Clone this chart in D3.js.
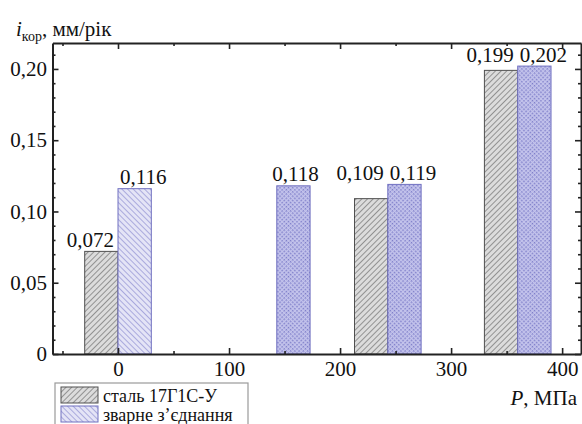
<!DOCTYPE html>
<html>
<head>
<meta charset="utf-8">
<script src="https://cdn.jsdelivr.net/npm/d3@7"></script>
<style>
html,body{margin:0;padding:0;background:#fff;}
svg{display:block;}
svg text{font-family:'Liberation Serif','DejaVu Serif','Tinos','Times New Roman',serif !important;}
</style>
</head>
<body>
<svg id="chart" width="582" height="424"></svg>
<script>
// ---- data ----
const groupPressures = [0, 143, 243, 360];          // MPa, boundary between the two bars of a group
const barWidthMPa = 30;
const steelValues = [0.072, null, 0.109, 0.199];    // сталь 17Г1С-У
const weldValues  = [0.116, 0.118, 0.119, 0.202];   // зварне з'єднання
const seriesNames = ["сталь 17Г1С-У", "зварне з\u2019єднання"];
const xTicks = [0, 100, 200, 300, 400];
const xMinorTicks = [-50, 50, 150, 250, 350];
const yTicks = [0, 0.05, 0.10, 0.15, 0.20];
const yTickLabels = ["0", "0,05", "0,10", "0,15", "0,20"];
const yMinorTicks = [0.01,0.02,0.03,0.04,0.06,0.07,0.08,0.09,0.11,0.12,0.13,0.14,0.16,0.17,0.18,0.19,0.21];

const svg = d3.select("#chart");
const defs = svg.append("defs");

// patterns
const pSteel = defs.append("pattern").attr("id","pSteel").attr("patternUnits","userSpaceOnUse")
  .attr("width",4).attr("height",4).attr("patternTransform","rotate(45)");
pSteel.append("rect").attr("width",4).attr("height",4).attr("fill","#dcdcdc");
pSteel.append("line").attr("x1",0).attr("y1",0).attr("x2",0).attr("y2",4).attr("stroke","#6a6a6a").attr("stroke-width",1.3);

const pWeldHatch = defs.append("pattern").attr("id","pWeldHatch").attr("patternUnits","userSpaceOnUse")
  .attr("width",4).attr("height",4).attr("patternTransform","rotate(-45)");
pWeldHatch.append("rect").attr("width",4).attr("height",4).attr("fill","#e4e4f6");
pWeldHatch.append("line").attr("x1",0).attr("y1",0).attr("x2",0).attr("y2",4).attr("stroke","#8a8ad0").attr("stroke-width",1.3);

const pWeldCross = defs.append("pattern").attr("id","pWeldCross").attr("patternUnits","userSpaceOnUse")
  .attr("width",3).attr("height",3).attr("patternTransform","rotate(45)");
pWeldCross.append("rect").attr("width",3).attr("height",3).attr("fill","#c4c4ec");
pWeldCross.append("rect").attr("width",1.5).attr("height",1.5).attr("fill","#7c7cc8");

// scales
const x = d3.scaleLinear().domain([-59, 417]).range([52.5, 581]);
const y = d3.scaleLinear().domain([0, 0.2182]).range([354, 43]);

const FS = 21;
const FF = "'Liberation Serif','DejaVu Serif','Tinos','Times New Roman',serif";

// bars
const g = svg.append("g").attr("font-family", FF);
groupPressures.forEach((p, i) => {
  const s = steelValues[i], w = weldValues[i];
  if (s != null) {
    g.append("rect").attr("x", x(p - barWidthMPa)).attr("y", y(s))
      .attr("width", x(p) - x(p - barWidthMPa)).attr("height", y(0) - y(s))
      .attr("fill","url(#pSteel)").attr("stroke","#505050").attr("stroke-width",1);
  }
  if (w != null) {
    g.append("rect").attr("x", x(p)).attr("y", y(w))
      .attr("width", x(p + barWidthMPa) - x(p)).attr("height", y(0) - y(w))
      .attr("fill", i === 0 ? "url(#pWeldHatch)" : "url(#pWeldCross)")
      .attr("stroke","#7070c0").attr("stroke-width",1);
  }
});

// value labels
const fmt = v => v.toFixed(3).replace(".", ",");
groupPressures.forEach((p, i) => {
  const s = steelValues[i], w = weldValues[i];
  const pair = s != null && w != null;
  const sameLine = pair && Math.abs(s - w) < 0.02;
  if (s != null) {
    const base = sameLine ? y(Math.max(s, w)) - 4 : y(s) - 4;
    g.append("text").attr("x", x(p) - 4).attr("y", base).attr("text-anchor","end")
      .attr("font-size", FS).attr("fill","#111").text(fmt(s));
  }
  if (w != null) {
    const base = sameLine ? y(Math.max(s, w)) - 4 : y(w) - 5;
    if (pair) {
      g.append("text").attr("x", x(p) + 2).attr("y", base).attr("text-anchor","start")
        .attr("font-size", FS).attr("fill","#111").text(fmt(w));
    } else {
      g.append("text").attr("x", (x(p) + x(p + barWidthMPa)) / 2 + 2).attr("y", base).attr("text-anchor","middle")
        .attr("font-size", FS).attr("fill","#111").text(fmt(w));
    }
  }
});

// axes
function styleAxis(sel, showLabels) {
  sel.attr("font-family", FF);
  sel.selectAll(".domain").attr("stroke","#222").attr("stroke-width",2);
  sel.selectAll(".tick line").attr("stroke","#222").attr("stroke-width",1.6);
  sel.selectAll(".tick text").attr("font-size", FS).attr("fill","#111");
  if (!showLabels) sel.selectAll(".tick text").remove();
}
// bottom
const xb = svg.append("g").attr("transform",`translate(0,${y(0)})`)
  .call(d3.axisBottom(x).tickValues(xTicks).tickSize(-6).tickSizeOuter(0).tickPadding(7).tickFormat(d3.format("d")));
styleAxis(xb, true);
const xbm = svg.append("g").attr("transform",`translate(0,${y(0)})`)
  .call(d3.axisBottom(x).tickValues(xMinorTicks).tickSize(-3).tickSizeOuter(0));
styleAxis(xbm, false); xbm.select(".domain").remove();
// top
const xt = svg.append("g").attr("transform",`translate(0,${y.range()[1]})`)
  .call(d3.axisTop(x).tickValues(xTicks).tickSize(-6).tickSizeOuter(0));
styleAxis(xt, false);
const xtm = svg.append("g").attr("transform",`translate(0,${y.range()[1]})`)
  .call(d3.axisTop(x).tickValues(xMinorTicks).tickSize(-3).tickSizeOuter(0));
styleAxis(xtm, false); xtm.select(".domain").remove();
// left
const yl = svg.append("g").attr("transform",`translate(${x.range()[0]},0)`)
  .call(d3.axisLeft(y).tickValues(yTicks).tickSize(-6).tickSizeOuter(0).tickPadding(5.5)
    .tickFormat((d, i) => yTickLabels[i]));
styleAxis(yl, true);
const ylm = svg.append("g").attr("transform",`translate(${x.range()[0]},0)`)
  .call(d3.axisLeft(y).tickValues(yMinorTicks).tickSize(-3).tickSizeOuter(0));
styleAxis(ylm, false); ylm.select(".domain").remove();
// right
const yr = svg.append("g").attr("transform",`translate(${x.range()[1]},0)`)
  .call(d3.axisRight(y).tickValues(yTicks).tickSize(-6).tickSizeOuter(0));
styleAxis(yr, false);
const yrm = svg.append("g").attr("transform",`translate(${x.range()[1]},0)`)
  .call(d3.axisRight(y).tickValues(yMinorTicks).tickSize(-3).tickSizeOuter(0));
styleAxis(yrm, false); yrm.select(".domain").remove();

// axis titles
const yt = svg.append("text").attr("x", 16).attr("y", 36).attr("font-size", FS).attr("fill","#111").attr("font-family", FF);
yt.append("tspan").attr("font-style","italic").text("i");
yt.append("tspan").attr("font-size", 14).attr("dy", 5).text("кор");
yt.append("tspan").attr("dy", -5).text(", мм/рік");

const xtTitle = svg.append("text").attr("x", 577).attr("y", 405).attr("text-anchor","end")
  .attr("font-size", FS).attr("fill","#111").attr("font-family", FF);
xtTitle.append("tspan").attr("font-style","italic").text("P");
xtTitle.append("tspan").text(", МПа");

// legend
const lg = svg.append("g").attr("font-family", FF);
lg.append("rect").attr("x",55).attr("y",383).attr("width",193).attr("height",60)
  .attr("fill","#fff").attr("stroke","#9a9a9a").attr("stroke-width",1.2);
const legendFills = ["url(#pSteel)", "url(#pWeldHatch)"];
const legendStrokes = ["#505050", "#7070c0"];
seriesNames.forEach((name, i) => {
  lg.append("rect").attr("x",61).attr("y",387 + i*19).attr("width",37).attr("height",16)
    .attr("fill", legendFills[i]).attr("stroke", legendStrokes[i]).attr("stroke-width",1);
  lg.append("text").attr("x",103).attr("y",402 + i*19).attr("font-size",18).attr("fill","#111").text(name);
});
</script>
</body>
</html>
